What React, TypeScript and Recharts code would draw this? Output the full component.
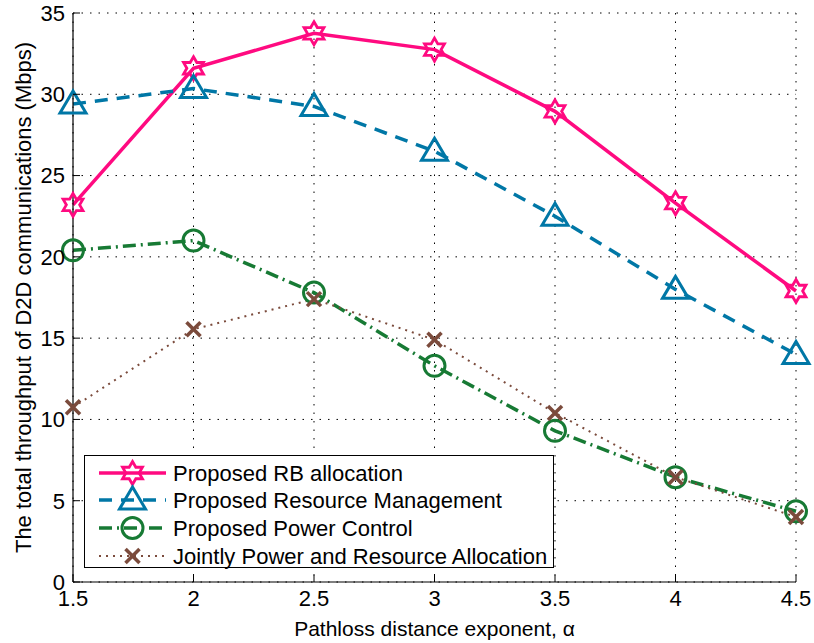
import React from "react";
import {CartesianGrid, Legend, Line, LineChart, XAxis, YAxis} from "recharts";

// pathloss distance exponent (x axis)
const alpha = [1.5, 2, 2.5, 3, 3.5, 4, 4.5];

// total D2D throughput in Mbps, one array per scheme
const rbAllocation = [23.2, 31.6, 33.75, 32.75, 28.95, 23.3, 17.9];
const resourceManagement = [29.4, 30.35, 29.25, 26.5, 22.5, 18.0, 14.0];
const powerControl = [20.4, 21.0, 17.8, 13.3, 9.3, 6.45, 4.35];
const jointAllocation = [10.75, 15.55, 17.4, 14.9, 10.4, 6.45, 4.0];

const xTicks = [1.5, 2, 2.5, 3, 3.5, 4, 4.5];
const yTicks = [0, 5, 10, 15, 20, 25, 30, 35];

const seriesNames = [
    "Proposed RB allocation",
    "Proposed Resource Management",
    "Proposed Power Control",
    "Jointly Power and Resource Allocation",
];

const data = alpha.map((a, i) => ({
    alpha: a,
    rb: rbAllocation[i],
    rm: resourceManagement[i],
    pc: powerControl[i],
    joint: jointAllocation[i],
}));

const FONT = "'Liberation Sans', Arial, Helvetica, sans-serif";
const TICK_MARGIN = 8;
const TICK_LEN = 7;

type MarkerProps = { cx: number; cy: number; color: string };

const Hexagram = ({cx, cy, color}: MarkerProps) => {
    const R = 11.5;
    const r = R / Math.sqrt(3);
    const pts: string[] = [];
    for (let k = 0; k < 12; k++) {
        const rad = k % 2 === 0 ? R : r;
        const ang = -Math.PI / 2 + (k * Math.PI) / 6;
        pts.push(`${cx + rad * Math.cos(ang)},${cy + rad * Math.sin(ang)}`);
    }
    return <polygon points={pts.join(" ")} fill="none" stroke={color} strokeWidth={2.8} strokeLinejoin="miter" />;
};

const Triangle = ({cx, cy, color}: MarkerProps) => (
    <polygon
        points={`${cx},${cy - 13} ${cx - 13},${cy + 9} ${cx + 13},${cy + 9}`}
        fill="none" stroke={color} strokeWidth={3} strokeLinejoin="miter"
    />
);

const Ring = ({cx, cy, color}: MarkerProps) => (
    <circle cx={cx} cy={cy} r={10.5} fill="none" stroke={color} strokeWidth={3} />
);

const Cross = ({cx, cy, color}: MarkerProps) => (
    <g stroke={color} strokeWidth={3.5}>
        <line x1={cx - 7} y1={cy - 7} x2={cx + 7} y2={cy + 7} />
        <line x1={cx - 7} y1={cy + 7} x2={cx + 7} y2={cy - 7} />
    </g>
);

const series = [
    {key: "rb", color: "#FF0A80", dash: undefined, width: 3.5, Marker: Hexagram},
    {key: "rm", color: "#0077A6", dash: "13 9", width: 3.5, Marker: Triangle},
    {key: "pc", color: "#177A34", dash: "13 5 2 5", width: 3.5, Marker: Ring},
    {key: "joint", color: "#7B4B3C", dash: "2 5", width: 2, Marker: Cross},
];

const XTick = (props: any) => {
    const {x, y, payload} = props;
    const axisY = y - TICK_MARGIN;
    return (
        <g>
            <line x1={x} y1={axisY} x2={x} y2={axisY - TICK_LEN} stroke="#000" strokeWidth={1} />
            <text x={x} y={y} dy="0.72em" textAnchor="middle" fill="#000" fontSize={22} fontFamily={FONT}>
                {payload.value}
            </text>
        </g>
    );
};

const YTick = (props: any) => {
    const {x, y, payload} = props;
    const axisX = x + TICK_MARGIN;
    return (
        <g>
            <line x1={axisX} y1={y} x2={axisX + TICK_LEN} y2={y} stroke="#000" strokeWidth={1} />
            <text x={x} y={y} dy="0.36em" textAnchor="end" fill="#000" fontSize={22} fontFamily={FONT}>
                {payload.value}
            </text>
        </g>
    );
};

const LegendBox = () => {
    const rowY = [17, 44, 72, 100];
    return (
        <div style={{border: "1px solid #000", background: "#fff", width: 468, height: 111}}>
            <svg width={468} height={111} style={{overflow: "visible"}}>
                {series.map((s, i) => (
                    <g key={s.key}>
                        <line x1={14} y1={rowY[i]} x2={81} y2={rowY[i]} stroke={s.color}
                              strokeWidth={s.width} strokeDasharray={s.dash} />
                        <s.Marker cx={47.5} cy={rowY[i]} color={s.color} />
                        <text x={88} y={rowY[i]} dy="0.36em" fontSize={22} fontFamily={FONT} fill="#000">
                            {seriesNames[i]}
                        </text>
                    </g>
                ))}
            </svg>
        </div>
    );
};

export default function App() {
    return (
        <div style={{position: "absolute", left: 0, top: 0, background: "#fff"}}>
            <LineChart width={814} height={643} data={data} margin={{top: 13, right: 18, bottom: 0, left: 0}}>
                <CartesianGrid stroke="#000" strokeWidth={1} strokeDasharray="1.5 7" horizontalValues={yTicks}
                               verticalValues={xTicks} />
                <XAxis dataKey="alpha" type="number" domain={[1.5, 4.5]} ticks={xTicks} height={61}
                       tickSize={0} tickMargin={TICK_MARGIN} tickLine={false} tick={XTick}
                       axisLine={{stroke: "#000", strokeWidth: 1.2}}
                       label={{value: "Pathloss distance exponent, α", position: "insideBottom", offset: 7,
                           style: {fontSize: 21, fontFamily: FONT, fill: "#000"}}} />
                <YAxis type="number" domain={[0, 35]} ticks={yTicks} width={73}
                       tickSize={0} tickMargin={TICK_MARGIN} tickLine={false} tick={YTick}
                       axisLine={{stroke: "#000", strokeWidth: 1.2}}
                       label={{value: "The total throughput of D2D communications (Mbps)", angle: -90,
                           position: "insideLeft", offset: 23,
                           style: {fontSize: 22, fontFamily: FONT, fill: "#000", textAnchor: "middle"}}} />
                {series.map((s, i) => (
                    <Line key={s.key} type="linear" dataKey={s.key} name={seriesNames[i]} stroke={s.color}
                          strokeWidth={s.width} strokeDasharray={s.dash} isAnimationActive={false}
                          activeDot={false}
                          dot={(p: any) => <s.Marker key={`${s.key}-${p.index}`} cx={p.cx} cy={p.cy} color={s.color} />} />
                ))}
                <Legend layout="vertical" align="center" verticalAlign="middle" content={<LegendBox />}
                        wrapperStyle={{left: 84, top: 455, width: 470, height: 113}} />
            </LineChart>
        </div>
    );
}
